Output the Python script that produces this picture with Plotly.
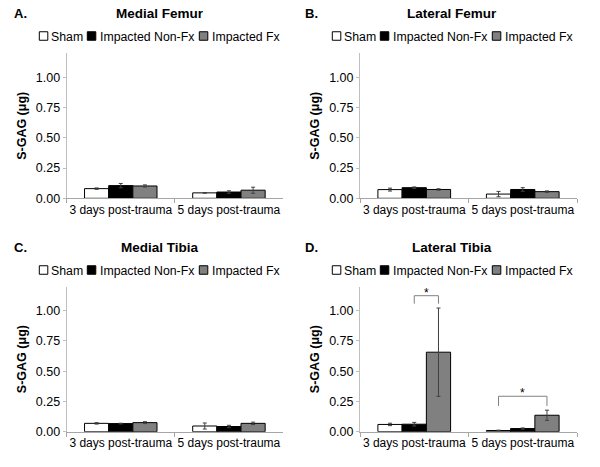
import plotly.graph_objects as go

categories = ["3 days post-trauma", "5 days post-trauma"]
series_names = ["Sham", "Impacted Non-Fx", "Impacted Fx"]
panel_titles = ["Medial Femur", "Lateral Femur", "Medial Tibia", "Lateral Tibia"]
panel_letters = ["A.", "B.", "C.", "D."]
y_ticks = [0.0, 0.25, 0.5, 0.75, 1.0]
y_tick_labels = ["0.00", "0.25", "0.50", "0.75", "1.00"]

# values [3 days, 5 days]
medial_femur_sham = [0.080, 0.045]
medial_femur_nonfx = [0.105, 0.052]
medial_femur_fx = [0.102, 0.067]
medial_femur_sham_err = [0.006, 0.003]
medial_femur_nonfx_err = [0.018, 0.010]
medial_femur_fx_err = [0.009, 0.025]

lateral_femur_sham = [0.072, 0.035]
lateral_femur_nonfx = [0.088, 0.073]
lateral_femur_fx = [0.073, 0.055]
lateral_femur_sham_err = [0.012, 0.022]
lateral_femur_nonfx_err = [0.006, 0.015]
lateral_femur_fx_err = [0.006, 0.006]

medial_tibia_sham = [0.069, 0.047]
medial_tibia_nonfx = [0.067, 0.043]
medial_tibia_fx = [0.075, 0.069]
medial_tibia_sham_err = [0.006, 0.025]
medial_tibia_nonfx_err = [0.003, 0.010]
medial_tibia_fx_err = [0.008, 0.010]

lateral_tibia_sham = [0.060, 0.010]
lateral_tibia_nonfx = [0.062, 0.026]
lateral_tibia_fx = [0.657, 0.136]
lateral_tibia_sham_err = [0.010, 0.003]
lateral_tibia_nonfx_err = [0.015, 0.005]
lateral_tibia_fx_err = [0.365, 0.042]

panels = [
    ([medial_femur_sham, medial_femur_nonfx, medial_femur_fx],
     [medial_femur_sham_err, medial_femur_nonfx_err, medial_femur_fx_err]),
    ([lateral_femur_sham, lateral_femur_nonfx, lateral_femur_fx],
     [lateral_femur_sham_err, lateral_femur_nonfx_err, lateral_femur_fx_err]),
    ([medial_tibia_sham, medial_tibia_nonfx, medial_tibia_fx],
     [medial_tibia_sham_err, medial_tibia_nonfx_err, medial_tibia_fx_err]),
    ([lateral_tibia_sham, lateral_tibia_nonfx, lateral_tibia_fx],
     [lateral_tibia_sham_err, lateral_tibia_nonfx_err, lateral_tibia_fx_err]),
]

fills = ["#ffffff", "#000000", "#808080"]

W, H = 600, 467
def px(x):
    return x / W
def py(y):
    return 1 - y / H

FONT = "Liberation Sans, Arial, sans-serif"

x_domains = [[66.7, 283.0], [360.0, 577.0], [66.7, 283.0], [360.0, 577.0]]
y_domains = [[198.3, 53.3], [198.3, 53.3], [431.7, 286.5], [431.7, 286.5]]
title_y = [13.3, 13.3, 247.3, 247.3]
title_cx = [159.5, 452.0, 160.0, 452.0]
letter_x = [11.7, 303.3, 11.7, 303.3]
legend_y = [36.0, 36.0, 270.0, 270.0]
legend_x0 = [39.3, 332.3, 39.3, 332.3]

fig = go.Figure()
layout = dict(
    width=W, height=H,
    margin=dict(l=0, r=0, t=0, b=0),
    paper_bgcolor="white", plot_bgcolor="white",
    showlegend=False,
    barmode="group", bargap=0.33, bargroupgap=0,
    font=dict(family=FONT, size=12, color="#000000"),
)
annotations = []
shapes = []

for i, (vals, errs) in enumerate(panels):
    sfx = "" if i == 0 else str(i + 1)
    for k in range(3):
        fig.add_trace(go.Bar(
            x=categories, y=vals[k], name=series_names[k],
            marker=dict(color=fills[k], line=dict(color="#000000", width=1)),
            error_y=dict(type="data", array=errs[k], color="#404040",
                         thickness=1, width=2),
            xaxis="x" + sfx, yaxis="y" + sfx,
            legendgroup=series_names[k], showlegend=(i == 0),
        ))
    layout["xaxis" + sfx] = dict(
        domain=[px(x_domains[i][0]), px(x_domains[i][1])],
        anchor="y" + sfx, type="category", automargin=False,
        showline=True, linecolor="#a6a6a6", linewidth=1,
        ticks="outside", tickson="boundaries", ticklen=4, tickangle=0,
        tickcolor="#a6a6a6", showgrid=False, zeroline=False,
        tickfont=dict(size=12, family=FONT),
    )
    layout["yaxis" + sfx] = dict(
        domain=[py(y_domains[i][0]), py(y_domains[i][1])],
        anchor="x" + sfx, range=[0, 1.2], automargin=False,
        tickvals=y_ticks, ticktext=y_tick_labels,
        showline=True, linecolor="#bfbfbf", linewidth=1,
        ticks="outside", ticklen=3, tickcolor="#bfbfbf",
        showgrid=False, zeroline=False,
        tickfont=dict(size=12.5, family=FONT),
        title=dict(text="<b>S-GAG (μg)</b>", font=dict(size=12.5, family=FONT),
                   standoff=6),
    )
    # panel letter and title
    annotations.append(dict(
        text="<b>" + panel_letters[i] + "</b>", xref="paper", yref="paper",
        x=px(letter_x[i]), y=py(title_y[i]), xanchor="left", yanchor="middle",
        showarrow=False, font=dict(size=13, family=FONT)))
    annotations.append(dict(
        text="<b>" + panel_titles[i] + "</b>", xref="paper", yref="paper",
        x=px(title_cx[i]), y=py(title_y[i]), xanchor="center", yanchor="middle",
        showarrow=False, font=dict(size=13.5, family=FONT)))
    # legend (Excel-style compact)
    x0 = legend_x0[i]
    box_off = [0.0, 48.0, 160.0]
    text_off = [10.9, 59.8, 171.7]
    for k in range(3):
        bx = x0 + box_off[k]
        shapes.append(dict(
            type="rect", xref="paper", yref="paper",
            x0=px(bx), x1=px(bx + 8.5),
            y0=py(legend_y[i] + 4.25), y1=py(legend_y[i] - 4.25),
            fillcolor=fills[k], line=dict(color="#000000", width=1)))
        annotations.append(dict(
            text=series_names[k], xref="paper", yref="paper",
            x=px(x0 + text_off[k]), y=py(legend_y[i] + 0.5),
            xanchor="left", yanchor="middle", showarrow=False,
            xshift=-1, font=dict(size=12.3, family=FONT)))

# significance brackets on Lateral Tibia (panel D)
bar_off = 0.67 / 3
brackets = [
    (0 + 0.0, 0 + bar_off, 1.124, 1.058),
    (1 - bar_off, 1 + bar_off, 0.293, 0.213),
]
for (xa, xb, ytop, yend) in brackets:
    shapes.append(dict(
        type="path", xref="x4", yref="y4",
        path=f"M {xa},{yend} L {xa},{ytop} L {xb},{ytop} L {xb},{yend}",
        line=dict(color="#808080", width=1)))
    annotations.append(dict(
        text="*", xref="x4", yref="y4", x=(xa + xb) / 2, y=ytop,
        xanchor="center", yanchor="bottom", showarrow=False, yshift=-6,
        font=dict(size=12, family=FONT)))

layout["annotations"] = annotations
layout["shapes"] = shapes
fig.update_layout(**layout)
fig.write_html(
    "out.html",
    config={"displayModeBar": False},
    post_script="document.body.style.margin='0';document.body.style.overflow='hidden';",
)
